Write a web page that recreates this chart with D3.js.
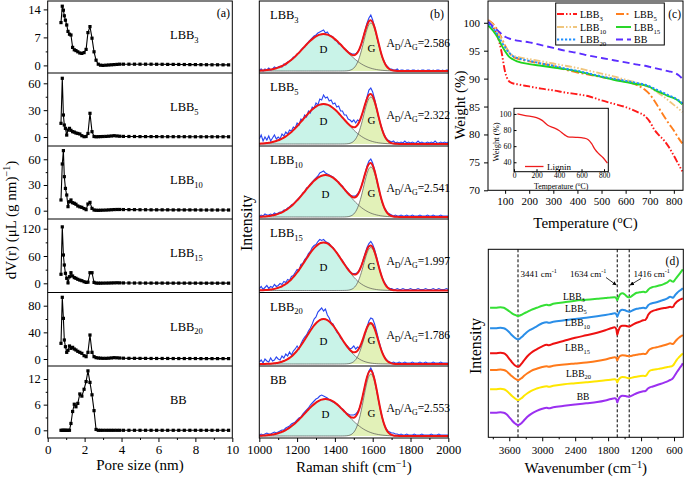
<!DOCTYPE html>
<html><head><meta charset="utf-8">
<script src="https://cdn.jsdelivr.net/npm/d3@7/dist/d3.min.js"></script>
<style>body{margin:0;background:#fff;}svg{display:block;}</style>
</head><body>
<svg id="chart" width="685" height="479"></svg>
<script>
const FONT='"Liberation Serif","Times New Roman",Times,serif';

// ---------- sample names ----------
const sampleBase=["LBB","LBB","LBB","LBB","LBB","BB"];
const sampleSub=["3","5","10","15","20",""];

// ---------- (a) pore size distribution ----------
const poreX=[0.72,0.79,0.85,0.90,0.96,1.03,1.10,1.18,1.26,1.35,1.44,1.53,1.63,1.74,1.85,1.97,2.08,2.18,2.29,2.40,2.51,2.62,2.74,2.86,3.00,3.15,3.30,3.45,3.60,3.75,3.90,4.10,4.40,4.70,5.00,5.30,5.60,5.90,6.20,6.50,6.80,7.10,7.40,7.70,8.00,8.30,8.60,8.90,9.20,9.50,9.80];
const poreLBB3=[10.7,14.8,13.8,12.4,11.3,10.1,8.5,7.8,7.6,4.5,3.9,3.7,3.4,3.1,3.0,3.2,4.0,8.2,9.7,6.8,3.4,1.3,0.3,0.05,0.0,0.05,0.1,0.15,0.2,0.25,0.3,0.3,0.3,0.3,0.3,0.3,0.3,0.28,0.27,0.25,0.25,0.24,0.22,0.2,0.2,0.18,0.17,0.15,0.15,0.14,0.13];
const poreLBB5=[15.3,65.6,24.6,13.4,9.7,2.2,7.8,9.7,7.5,6.0,5.5,4.5,4.0,3.4,1.5,0.4,0.6,4.0,26.5,6.0,0.6,0.3,0.4,0.5,0.6,0.7,0.9,1.2,1.5,1.2,0.9,0.7,0.6,0.6,0.5,0.5,0.5,0.5,0.4,0.4,0.4,0.4,0.4,0.3,0.3,0.3,0.3,0.3,0.3,0.3,0.3];
const poreLBB10=[12.5,54.5,70.1,39.7,26.0,18.3,4.7,10.5,12.5,9.3,8.6,7.5,5.5,4.5,3.9,2.5,1.2,7.8,9.7,2.7,0.8,0.5,0.4,0.5,0.6,0.7,0.9,1.1,1.3,1.4,1.4,1.3,1.2,1.2,1.1,1.1,1.0,1.0,1.0,1.0,0.9,0.9,0.9,0.9,0.9,0.8,0.8,0.8,0.8,0.8,0.8];
const poreLBB15=[19.8,124,62.2,40.2,22.0,11.0,1.0,14.5,23.3,16.0,12.5,11.0,8.8,7.0,5.7,3.5,2.0,2.5,23.3,23.3,2.0,0.5,0.3,0.3,0.4,0.5,0.6,0.8,1.0,1.2,1.0,0.8,0.7,0.6,0.6,0.5,0.5,0.5,0.5,0.4,0.4,0.4,0.4,0.4,0.4,0.3,0.3,0.3,0.3,0.3,0.3];
const poreLBB20=[23.5,92.6,61.0,28.5,18.5,10.0,13.0,19.5,16.0,17.5,15.0,13.5,11.5,10.0,8.5,5.0,3.5,10.0,36.0,10.0,3.5,2.0,1.5,1.2,1.0,1.0,1.2,1.6,2.0,1.8,1.5,1.2,1.0,1.0,0.9,0.9,0.8,0.8,0.8,0.8,0.7,0.7,0.7,0.7,0.7,0.6,0.6,0.6,0.6,0.6,0.6];
const poreBB=[0,0,0,0,0,0,0,0,1.6,4.4,6.1,5.5,6.3,8.5,8.0,9.6,11.4,13.9,11.2,8.3,4.6,0.2,0,0,0,0,0,0,0,0,0,0,0,0,0,0,0,0,0,0,0,0,0,0,0,0,0,0,0,0,0];
const poreYTicks=[[0,7,14],[0,30,60],[0,30,60],[0,60,120],[0,40,80],[0,6,12]];
const poreYMinor=[[3.5,10.5],[15,45],[15,45],[30,90],[20,60],[3,9]];
const poreXTicks=[0,2,4,6,8,10];
const poreXMinor=[1,3,5,7,9];

// ---------- (b) Raman ----------
const ramanX=[1000,1010,1020,1030,1040,1050,1060,1070,1080,1090,1100,1110,1120,1130,1140,1150,1160,1170,1180,1190,1200,1210,1220,1230,1240,1250,1260,1270,1280,1290,1300,1310,1320,1330,1340,1350,1360,1370,1380,1390,1400,1410,1420,1430,1440,1450,1460,1470,1480,1490,1500,1510,1520,1530,1540,1550,1560,1570,1580,1590,1600,1610,1620,1630,1640,1650,1660,1670,1680,1690,1700,1710,1720,1730,1740,1750,1760,1770,1780,1790,1800,1810,1820,1830,1840,1850,1860,1870,1880,1890,1900,1910,1920,1930,1940,1950,1960,1970,1980,1990,2000];
const ramanLBB3=[1,2,0,2,1,3,1,2,4,3,4,5,4,7,6,9,10,11,14,14,17,18,21,23,24,27,29,31,33,35,36,38,39,40,41,38,39,36,35,34,31,30,27,27,24,22,21,19,18,17,17,17,19,22,27,34,41,48,53,56,51,44,36,28,21,14,10,6,4,2,2,1,1,2,0,1,1,0,1,1,0,1,1,0,1,0,1,1,0,1,1,0,1,0,1,1,0,1,0,1,1];
const ramanLBB5=[5,9,3,7,4,8,3,6,9,5,7,5,10,8,12,10,14,13,17,16,21,19,25,24,29,27,33,31,37,36,41,39,45,44,49,46,47,43,44,40,41,37,38,33,33,29,29,25,24,22,24,21,24,23,28,33,40,47,54,56,52,45,37,28,21,15,10,6,4,3,2,3,1,2,1,2,1,3,1,2,1,2,1,1,3,1,2,1,1,2,1,2,1,3,1,1,2,1,2,1,2];
const ramanLBB10=[1,2,1,3,2,2,3,2,4,3,4,5,5,7,7,9,10,12,13,15,17,19,21,24,25,29,30,33,35,37,39,41,44,45,46,44,43,42,41,40,38,36,35,32,31,28,26,24,22,21,21,21,23,26,31,37,44,51,56,58,54,47,39,30,22,15,10,7,4,3,2,1,2,1,1,2,1,1,2,1,1,2,1,1,1,2,1,1,1,2,1,1,2,1,1,1,2,1,1,1,1];
const ramanLBB15=[2,4,1,3,5,2,4,3,6,4,5,7,6,9,8,11,10,14,15,18,21,20,26,27,31,33,37,39,43,45,46,49,51,50,51,49,48,47,44,43,40,38,35,32,30,27,24,22,19,17,17,17,18,21,25,31,37,43,47,49,46,41,34,26,19,13,9,6,3,2,2,1,1,2,1,1,2,1,1,1,2,1,1,1,2,1,1,1,2,1,1,1,2,1,1,2,1,1,1,2,1];
const ramanLBB20=[2,4,1,5,3,2,6,3,4,7,5,4,8,6,10,8,12,9,13,15,18,15,20,24,27,29,33,36,40,45,47,52,54,56,53,55,49,46,41,40,36,32,30,26,24,21,19,17,15,16,18,15,17,16,20,25,31,37,43,46,45,40,33,25,18,12,8,5,3,2,1,2,1,1,2,1,1,2,1,1,1,2,1,1,1,2,1,1,2,1,1,1,2,1,1,1,2,1,1,1,1];
const ramanBB=[1,2,1,2,3,2,2,3,4,3,4,5,6,6,8,9,10,12,13,14,16,18,19,22,24,26,28,31,33,35,37,38,40,41,40,39,38,36,35,34,33,32,30,28,27,25,23,22,21,21,21,22,24,28,34,42,51,59,65,68,64,57,47,37,27,19,12,8,5,4,3,3,2,2,1,2,1,1,2,1,1,1,2,1,1,1,2,1,1,1,1,2,1,1,1,2,1,1,1,1,1];
// fitted bands (centre, width sigma, height)
const dCenter=[1340,1340,1350,1340,1340,1350];
const dSigma=[110,110,110,100,90,110];
const dHeight=[37,40,42,48,45,37];
const gCenter=[1590,1590,1590,1590,1590,1590];
const gSigma=[38,38,38,38,38,38];
const gHeight=[48,47,50,43,40,62];
const ratioLabels=["2.586","2.322","2.541","1.997","1.786","2.553"];
const ramanTicks=[1000,1200,1400,1600,1800,2000];
const ramanMinor=[1100,1300,1500,1700,1900];

// ---------- (c) TGA ----------
const tgaT=[30,50,70,85,100,115,130,150,200,250,300,350,400,450,500,550,600,650,680,700,720,740,760,780,800,820,835];
const tgaLBB3=[100.4,99.3,97.5,94.8,91.2,89.6,89.2,89.0,88.6,88.2,87.9,87.5,87.2,86.8,86.1,85.5,84.9,84.0,83.3,82.3,80.8,79.8,78.9,77.7,76.2,74.6,73.4];
const tgaLBB5=[100.5,99.8,98.6,97.3,95.9,94.8,94.0,93.6,93.1,92.7,92.3,91.6,91.1,90.7,90.3,89.9,89.5,88.8,88.0,87.2,86.0,84.6,83.2,81.9,80.7,79.3,78.4];
const tgaLBB10=[100.3,99.6,98.3,97.0,95.8,94.8,94.2,93.9,93.5,93.1,92.7,92.3,91.9,91.4,90.9,90.4,89.8,89.2,88.8,88.4,87.9,87.3,86.7,86.0,85.3,84.6,84.0];
const tgaLBB15=[99.5,98.6,97.3,96.0,94.9,94.0,93.5,93.1,92.6,92.3,92.0,91.7,91.3,90.8,90.3,89.8,89.4,89.0,88.8,88.5,88.0,87.6,87.2,86.8,86.5,86.0,85.4];
const tgaLBB20=[99.8,99.0,97.8,96.6,95.6,94.7,94.1,93.7,93.2,92.7,92.3,91.8,91.4,90.9,90.4,90.0,89.6,89.2,88.9,88.6,88.2,87.8,87.4,87.0,86.6,86.1,85.6];
const tgaBB=[100.2,99.3,98.6,98.0,97.5,97.2,97.0,96.8,96.5,96.0,95.5,95.0,94.6,94.1,93.7,93.3,92.9,92.5,92.3,92.1,91.9,91.7,91.5,91.3,91.1,90.6,90.0];
const tgaYTicks=[70,75,80,85,90,95,100];
const tgaXTicks=[100,200,300,400,500,600,700,800];
const ligninT=[30,100,200,250,300,350,400,450,480,550,620,660,690,720,750,790,830];
const ligninW=[100,98,95.5,92,86,83,79.5,74,71.5,71,70,68,63,56,51,46,39];
const insetXTicks=[0,200,400,600,800];
const insetYTicks=[40,60,80,100];

// ---------- (d) FTIR ----------
const ftirX=[3950,3850,3760,3700,3650,3600,3550,3500,3460,3441,3420,3380,3330,3270,3200,3100,3000,2920,2880,2800,2600,2400,2200,2000,1850,1750,1680,1650,1634,1615,1580,1540,1490,1450,1416,1390,1340,1280,1230,1160,1120,1100,1070,1040,1000,920,850,780,720,670,640,615,590,550,500,460,440];
const ftirLBB3=[129.5,129.5,130,129.5,128,126,124,122.5,121.5,121.2,121.5,122.5,124,125.5,127.5,129.5,131.5,132.5,132,133.5,135,136.5,137.5,138.5,139.2,139.8,140,139,137,139.5,143,144,142.5,140.5,140,140.5,142.5,144.5,145,145.5,145,145.5,147.5,149,150,151,152,153.5,155,157,156,155.5,157,160,163.5,166.5,168];
const ftirLBB5=[109,109,109.5,109,107.5,105,102,99.5,98.2,98,98.3,100,102.5,105.5,108,111,114,115,114.5,115.5,117,118.3,119.5,121,122.3,123.3,124,123,120.6,123,126.5,127.5,127,126,125.5,126,127.3,128.5,129,129.5,129,129.8,132,133.3,134,135,136.3,137.5,139,140.6,140,139.5,141.5,144,146.5,148,149];
const ftirLBB10=[84,84,84.5,84,82,78.5,75,72,70.8,70.6,71,73.5,77,81,84.5,88,91,92.5,92,93.5,96.5,99.5,102,104.5,107,109,110,108,102.5,106,110.5,111.5,111.5,111,110.8,111.5,113,114.6,115.5,117,117.5,119,122.5,124.5,126,127.5,128.5,129.2,129.8,130.5,130,130.5,133,135.5,137.5,138.5,139];
const ftirLBB15=[67.3,67.3,67.8,67.3,66,63.5,61,58.8,57.6,57.3,57.6,59,61.5,64,66.5,68.5,70.3,71,70.6,71.5,72.8,73.8,74.8,76.2,77.8,79.2,80,79.3,76.8,79,81.5,82,81.8,81.3,81,81.3,82,82.5,83,83.5,83.2,84,86.5,88,89,90,91,92,93,94,93.5,93.3,95,97.5,100,101.5,102.3];
const ftirLBB20=[48,48,48.5,48,46.5,44,41.3,39,37.6,37.3,37.6,39,41.5,44,46.5,48.8,50.4,51,50.5,51.5,53,54,55,56,57,57.6,58,57.3,54.8,57,59.5,60.2,60,59.3,59,59.3,60,60.6,61,61.5,61.3,62.3,64.8,66.5,67.3,68,68.8,69.5,70.2,70.8,71,72,74,77.5,80.5,82.8,84];
const ftirBB=[24.6,24.6,25,24.6,23,20,16.8,14,12.6,12.3,12.6,14,17,20.5,23.5,26.5,28.5,29.5,29,30,31.5,32.8,34,35.2,36.8,38.2,39,38,34.8,37.5,40.5,41.5,41.3,40.8,40.6,41.2,42.5,44,45,46,46.3,47.3,49,50,50.6,52,53.3,54.7,56,57.3,58,59.5,61.5,65,69,72,74];
const ftirMarks=[3441,1634,1416];
const ftirTicks=[3600,3000,2400,1800,1200,600];
const ftirMinor=[3900,3300,2700,2100,1500,900];

// ================= drawing =================
const svg=d3.select("#chart");
svg.append("rect").attr("width",685).attr("height",479).attr("fill","#fff");
const defs=svg.append("defs");
defs.append("marker").attr("id","arr").attr("viewBox","0 0 10 10").attr("refX",9).attr("refY",5)
  .attr("markerWidth",5).attr("markerHeight",5).attr("orient","auto")
  .append("path").attr("d","M0,0L10,5L0,10z").attr("fill","#000");

function richText(g,x,y,parts,size,anchor){
  const t=g.append("text").attr("x",x).attr("y",y).attr("font-size",size)
    .attr("font-family",FONT).attr("fill","#000").attr("text-anchor",anchor||"start");
  let shift=0;
  parts.forEach(p=>{
    const target=p.sub?size*0.3:(p.sup?-size*0.36:0);
    const ts=t.append("tspan").text(p.t).attr("dy",target-shift);
    if(p.sub||p.sup) ts.attr("font-size",size*0.68);
    shift=target;
  });
  return t;
}
function nameParts(i){const p=[{t:sampleBase[i]}]; if(sampleSub[i]) p.push({t:sampleSub[i],sub:true}); return p;}
function styleAxis(sel,size){
  sel.select(".domain").remove();
  sel.attr("font-family",FONT).attr("font-size",size);
  sel.selectAll("text").attr("fill","#000").attr("font-family",FONT).attr("font-size",size);
  sel.selectAll("line").attr("stroke","#000").attr("stroke-width",1);
}
function minorAxis(sel){
  sel.select(".domain").remove();
  sel.selectAll("text").remove();
  sel.selectAll("line").attr("stroke","#000").attr("stroke-width",1);
}
function frame(g,x0,y0,x1,y1){
  g.append("rect").attr("x",x0).attr("y",y0).attr("width",x1-x0).attr("height",y1-y0)
   .attr("fill","none").attr("stroke","#000").attr("stroke-width",1);
}
let clipId=0;
function clip(x0,y0,x1,y1){
  const id="cp"+(clipId++);
  defs.append("clipPath").attr("id",id).append("rect").attr("x",x0).attr("y",y0).attr("width",x1-x0).attr("height",y1-y0);
  return "url(#"+id+")";
}
const fmtInt=d3.format("d");

const rows=[1,73,146,219,292.5,366,438];

// ---------- panel (a) ----------
const gA=svg.append("g");
const aL=47.7,aR=232.3;
const ax=d3.scaleLinear().domain([0,10]).range([aL,aR]);
const aDomains=[[-1.9,16.1],[-10,71.5],[-9.7,75.5],[-20.2,141.3],[-10.5,99.8],[-1.8,15.04]];
const poreSeries=[poreLBB3,poreLBB5,poreLBB10,poreLBB15,poreLBB20,poreBB];
poreSeries.forEach((ys,i)=>{
  const y=d3.scaleLinear().domain(aDomains[i]).range([rows[i+1],rows[i]]);
  const pts=ys.map((v,j)=>[poreX[j],v]);
  const cp=clip(aL,rows[i],aR,rows[i+1]);
  gA.append("path").datum(pts).attr("clip-path",cp)
    .attr("d",d3.line().x(d=>ax(d[0])).y(d=>y(d[1])))
    .attr("fill","none").attr("stroke","#000").attr("stroke-width",1.1);
  gA.append("g").attr("clip-path",cp).selectAll("rect").data(pts).join("rect")
    .attr("x",d=>ax(d[0])-1.6).attr("y",d=>y(d[1])-1.6).attr("width",3.2).attr("height",3.2).attr("fill","#000");
  styleAxis(gA.append("g").attr("transform",`translate(${aL},0)`)
    .call(d3.axisLeft(y).tickValues(poreYTicks[i]).tickSize(4).tickPadding(3).tickFormat(fmtInt)),12.5);
  minorAxis(gA.append("g").attr("transform",`translate(${aL},0)`)
    .call(d3.axisLeft(y).tickValues(poreYMinor[i]).tickSize(2)));
  richText(gA,170,rows[i]+38,nameParts(i),12.5);
  if(i>0) gA.append("line").attr("x1",aL).attr("x2",aR).attr("y1",rows[i]).attr("y2",rows[i]).attr("stroke","#000");
});
frame(gA,aL,rows[0],aR,rows[6]);
styleAxis(gA.append("g").attr("transform",`translate(0,${rows[6]})`)
  .call(d3.axisBottom(ax).tickValues(poreXTicks).tickSize(4).tickPadding(3).tickFormat(fmtInt)),13);
minorAxis(gA.append("g").attr("transform",`translate(0,${rows[6]})`)
  .call(d3.axisBottom(ax).tickValues(poreXMinor).tickSize(2)));
richText(gA,230,17,[{t:"(a)"}],12,"end");
richText(gA,(aL+aR)/2,470,[{t:"Pore size (nm)"}],15,"middle");
richText(gA,15.5,220,[{t:"dV(r) (\u03bcL (g nm)"},{t:"\u22121",sup:true},{t:")"}],15,"middle")
  .attr("transform","rotate(-90,15.5,220)");

// ---------- panel (b) ----------
const gB=svg.append("g");
const bL=259.3,bR=448.3;
const bx=d3.scaleLinear().domain([1000,2000]).range([bL,bR]);
const ramanSeries=[ramanLBB3,ramanLBB5,ramanLBB10,ramanLBB15,ramanLBB20,ramanBB];
function band(x,c,s,h){return h*Math.exp(-((x-c)*(x-c))/(2*s*s));}
ramanSeries.forEach((ys,i)=>{
  const base=rows[i+1]-2;
  const y=d3.scaleLinear().domain([0,base-rows[i]]).range([base,rows[i]]);
  const cp=clip(bL,rows[i],bR,rows[i+1]);
  const g=gB.append("g").attr("clip-path",cp);
  const D=ramanX.map(x=>[x,band(x,dCenter[i],dSigma[i],dHeight[i])]);
  const G=ramanX.map(x=>[x,band(x,gCenter[i],gSigma[i],gHeight[i])]);
  const fit=ramanX.map((x,j)=>[x,D[j][1]+G[j][1]]);
  const area=d3.area().x(d=>bx(d[0])).y0(y(0)).y1(d=>y(d[1])).curve(d3.curveMonotoneX);
  const ln=d3.line().x(d=>bx(d[0])).y(d=>y(d[1])).curve(d3.curveMonotoneX);
  g.append("path").datum(D).attr("d",area).attr("fill","#c9f3e8");
  g.append("path").datum(G).attr("d",area).attr("fill","#e2f1b8");
  g.append("path").datum(D).attr("d",ln).attr("fill","none").attr("stroke","#555").attr("stroke-width",0.7);
  g.append("path").datum(G).attr("d",ln).attr("fill","none").attr("stroke","#555").attr("stroke-width",0.7);
  g.append("path").datum(ys.map((v,j)=>[ramanX[j],v])).attr("d",d3.line().x(d=>bx(d[0])).y(d=>y(d[1])))
    .attr("fill","none").attr("stroke","#2a46f0").attr("stroke-width",1.1);
  g.append("path").datum(fit).attr("d",ln).attr("fill","none").attr("stroke","#f01414").attr("stroke-width",2);
  richText(gB,270,rows[i]+18,nameParts(i),12.5);
  richText(gB,bx(dCenter[i]),rows[i]+52,[{t:"D"}],11,"middle");
  richText(gB,bx(gCenter[i]+3),rows[i]+51,[{t:"G"}],11,"middle");
  richText(gB,386.5,rows[i]+46,[{t:"A"},{t:"D",sub:true},{t:"/A"},{t:"G",sub:true},{t:"="+ratioLabels[i]}],11.5);
  if(i>0) gB.append("line").attr("x1",bL).attr("x2",bR).attr("y1",rows[i]).attr("y2",rows[i]).attr("stroke","#000");
});
frame(gB,bL,rows[0],bR,rows[6]);
styleAxis(gB.append("g").attr("transform",`translate(0,${rows[6]})`)
  .call(d3.axisBottom(bx).tickValues(ramanTicks).tickSize(4).tickPadding(3).tickFormat(fmtInt)),12.5);
minorAxis(gB.append("g").attr("transform",`translate(0,${rows[6]})`)
  .call(d3.axisBottom(bx).tickValues(ramanMinor).tickSize(2)));
richText(gB,444,18,[{t:"(b)"}],12,"end");
richText(gB,(bL+bR)/2,472,[{t:"Raman shift (cm"},{t:"\u22121",sup:true},{t:")"}],15,"middle");
richText(gB,252,223,[{t:"Intensity"}],16,"middle").attr("transform","rotate(-90,252,223)");

// ---------- panel (c) ----------
const gC=svg.append("g");
const cL=488,cR=683,cT=1,cB=190.3;
const cx=d3.scaleLinear().domain([29,838]).range([cL,cR]);
const cy=d3.scaleLinear().domain([70,103.9]).range([cB,cT]);
const tgaSeries=[tgaLBB3,tgaLBB5,tgaLBB10,tgaLBB15,tgaLBB20,tgaBB];
const tgaColors=["#ff1a1a","#ff7f1e","#f0c67e","#1fd41f","#1e8fff","#5b2dff"];
const tgaDash=["7,2,1.5,2,1.5,2","8,2.5,2,2.5","7,2,1.5,2,1.5,2",null,"2.2,1.8","7,4"];
const cpC=clip(cL,cT,cR,cB);
const tgaLine=d3.line().x(d=>cx(d[0])).y(d=>cy(d[1])).curve(d3.curveMonotoneX);
tgaSeries.forEach((ys,i)=>{
  gC.append("path").datum(ys.map((v,j)=>[tgaT[j],v])).attr("clip-path",cpC).attr("d",tgaLine)
    .attr("fill","none").attr("stroke",tgaColors[i]).attr("stroke-width",1.9)
    .attr("stroke-dasharray",tgaDash[i]);
});
frame(gC,cL,cT,cR,cB);
styleAxis(gC.append("g").attr("transform",`translate(${cL},0)`)
  .call(d3.axisLeft(cy).tickValues(tgaYTicks).tickSize(4).tickPadding(4).tickFormat(fmtInt)),11);
styleAxis(gC.append("g").attr("transform",`translate(0,${cB})`)
  .call(d3.axisBottom(cx).tickValues(tgaXTicks).tickSize(3.5).tickPadding(3.5).tickFormat(fmtInt)),11);
richText(gC,465,105,[{t:"Weight (%)"}],15,"middle").attr("transform","rotate(-90,465,105)");
richText(gC,(cL+cR)/2,228,[{t:"Temperature ("},{t:"o",sup:true},{t:"C)"}],15,"middle");
richText(gC,681,18,[{t:"(c)"}],11.5,"end");
// legend
const leg=gC.append("g");
leg.append("rect").attr("x",555.7).attr("y",3).attr("width",108.6).attr("height",42)
  .attr("fill","#fff").attr("stroke","#000").attr("stroke-width",1);
const legPos=[[557,14],[616,14],[557,27],[616,27],[557,39.5],[616,39.5]];
const legLen=[20,15,20,15,20,15];
tgaSeries.forEach((ys,i)=>{
  const [lx,ly]=legPos[i];
  leg.append("line").attr("x1",lx).attr("x2",lx+legLen[i]).attr("y1",ly).attr("y2",ly)
    .attr("stroke",tgaColors[i]).attr("stroke-width",1.9).attr("stroke-dasharray",tgaDash[i]);
  richText(leg,lx+legLen[i]+3,ly+3.5,nameParts(i),10);
});
// inset
const iL=514,iR=608.3,iT=108.3,iB=171.7;
const ix=d3.scaleLinear().domain([0,838]).range([iL,iR]);
const iy=d3.scaleLinear().domain([28.3,107]).range([iB,iT]);
const gI=gC.append("g");
gI.append("rect").attr("x",iL).attr("y",iT).attr("width",iR-iL).attr("height",iB-iT).attr("fill","#fff");
gI.append("path").datum(ligninW.map((v,j)=>[ligninT[j],v]))
  .attr("d",d3.line().x(d=>ix(d[0])).y(d=>iy(d[1])).curve(d3.curveMonotoneX))
  .attr("fill","none").attr("stroke","#ee1c1c").attr("stroke-width",1.3);
frame(gI,iL,iT,iR,iB);
styleAxis(gI.append("g").attr("transform",`translate(${iL},0)`)
  .call(d3.axisLeft(iy).tickValues(insetYTicks).tickSize(-2.5).tickPadding(2.5).tickFormat(fmtInt)),8);
styleAxis(gI.append("g").attr("transform",`translate(0,${iB})`)
  .call(d3.axisBottom(ix).tickValues(insetXTicks).tickSize(-2.5).tickPadding(1.2).tickFormat(fmtInt)),7.5);
richText(gI,499,142,[{t:"Weight (%)"}],8.5,"middle").attr("transform","rotate(-90,499,142)");
richText(gI,(iL+iR)/2,189.3,[{t:"Temperature ("},{t:"o",sup:true},{t:"C)"}],7.8,"middle");
gI.append("line").attr("x1",525).attr("x2",543.5).attr("y1",166.5).attr("y2",166.5).attr("stroke","#ee1c1c").attr("stroke-width",1.3);
richText(gI,547,169.5,[{t:"Lignin"}],9);

// ---------- panel (d) ----------
const gD=svg.append("g");
const dL=488.3,dR=683.3,dT=249.3,dB=437.3;
const dx=d3.scaleLinear().domain([3982,431]).range([dL,dR]);
const dy=d3.scaleLinear().domain([0,188]).range([dB,dT]);
const ftirSeries=[ftirLBB3,ftirLBB5,ftirLBB10,ftirLBB15,ftirLBB20,ftirBB];
const ftirColors=["#35e035","#2a8ee8","#ee1111","#ff7a1a","#ffe600","#9b30f0"];
const cpD=clip(dL,dT,dR,dB);
ftirMarks.forEach(w=>{
  gD.append("line").attr("x1",dx(w)).attr("x2",dx(w)).attr("y1",dT).attr("y2",dB)
    .attr("stroke","#000").attr("stroke-width",1).attr("stroke-dasharray","3,2");
});
const ftirLine=d3.line().x(d=>dx(d[0])).y(d=>dy(d[1])).curve(d3.curveMonotoneX);
ftirSeries.forEach((ys,i)=>{
  gD.append("path").datum(ys.map((v,j)=>[ftirX[j],v])).attr("clip-path",cpD).attr("d",ftirLine)
    .attr("fill","none").attr("stroke",ftirColors[i]).attr("stroke-width",2);
});
frame(gD,dL,dT,dR,dB);
styleAxis(gD.append("g").attr("transform",`translate(0,${dB})`)
  .call(d3.axisBottom(dx).tickValues(ftirTicks).tickSize(4).tickPadding(5).tickFormat(fmtInt)),11);
minorAxis(gD.append("g").attr("transform",`translate(0,${dB})`)
  .call(d3.axisBottom(dx).tickValues(ftirMinor).tickSize(2)));
const ftirLabelPos=[[563,299.5],[565,311.5],[565,326],[565,351],[566,376.5],[576.7,400]];
ftirSeries.forEach((ys,i)=>richText(gD,ftirLabelPos[i][0],ftirLabelPos[i][1],nameParts(i),9.5));
richText(gD,679,265,[{t:"(d)"}],11.5,"end");
richText(gD,520.5,276.5,[{t:"3441 cm"},{t:"-1",sup:true}],9);
richText(gD,570,276.5,[{t:"1634 cm"},{t:"-1",sup:true}],9);
richText(gD,633.5,276.5,[{t:"1416 cm"},{t:"-1",sup:true}],9);
gD.append("line").attr("x1",606).attr("y1",277.5).attr("x2",dx(1634)-1).attr("y2",285)
  .attr("stroke","#000").attr("stroke-width",0.8).attr("marker-end","url(#arr)");
gD.append("line").attr("x1",641).attr("y1",278.5).attr("x2",dx(1416)+1).attr("y2",285)
  .attr("stroke","#000").attr("stroke-width",0.8).attr("marker-end","url(#arr)");
richText(gD,(dL+dR)/2,473,[{t:"Wavenumber (cm"},{t:"\u22121",sup:true},{t:")"}],15,"middle");
richText(gD,480.5,346,[{t:"Intensity"}],16,"middle").attr("transform","rotate(-90,480.5,346)");
</script>
</body></html>
